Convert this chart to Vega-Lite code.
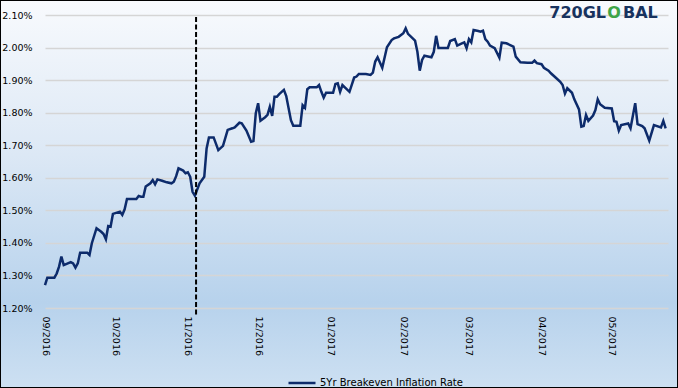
{
  "$schema": "https://vega.github.io/schema/vega-lite/v6.json",
  "width": 678,
  "height": 388,
  "autosize": {"type": "none"},
  "padding": 0,
  "background": "#ffffff",
  "view": {
    "fill": {"gradient": "linear", "x1": 0, "y1": 0, "x2": 0, "y2": 1,
      "stops": [
        {"offset": 0, "color": "#f8fafd"},
        {"offset": 0.4, "color": "#dce8f5"},
        {"offset": 0.78, "color": "#b7d2ec"},
        {"offset": 1, "color": "#cde0f2"}
      ]},
    "stroke": "#000000",
    "strokeWidth": 2
  },
  "config": {"font": "DejaVu Sans"},
  "data": {"values": [
    {"d":"2016-09-01","v":1.270},{"d":"2016-09-02","v":1.293},{"d":"2016-09-05","v":1.293},{"d":"2016-09-06","v":1.306},
    {"d":"2016-09-07","v":1.327},{"d":"2016-09-08","v":1.358},{"d":"2016-09-09","v":1.332},{"d":"2016-09-10","v":1.335},
    {"d":"2016-09-12","v":1.341},{"d":"2016-09-13","v":1.337},{"d":"2016-09-14","v":1.324},{"d":"2016-09-15","v":1.337},
    {"d":"2016-09-16","v":1.370},{"d":"2016-09-19","v":1.370},{"d":"2016-09-20","v":1.363},{"d":"2016-09-21","v":1.399},
    {"d":"2016-09-23","v":1.445},{"d":"2016-09-25","v":1.434},{"d":"2016-09-26","v":1.427},{"d":"2016-09-27","v":1.411},
    {"d":"2016-09-28","v":1.452},{"d":"2016-09-29","v":1.450},{"d":"2016-09-30","v":1.489},{"d":"2016-10-03","v":1.496},
    {"d":"2016-10-04","v":1.486},{"d":"2016-10-05","v":1.503},{"d":"2016-10-06","v":1.535},{"d":"2016-10-10","v":1.535},
    {"d":"2016-10-11","v":1.544},{"d":"2016-10-12","v":1.542},{"d":"2016-10-13","v":1.542},{"d":"2016-10-14","v":1.573},
    {"d":"2016-10-16","v":1.583},{"d":"2016-10-17","v":1.593},{"d":"2016-10-18","v":1.580},{"d":"2016-10-19","v":1.595},
    {"d":"2016-10-21","v":1.591},{"d":"2016-10-23","v":1.586},{"d":"2016-10-25","v":1.583},{"d":"2016-10-26","v":1.588},
    {"d":"2016-10-27","v":1.605},{"d":"2016-10-28","v":1.629},{"d":"2016-10-30","v":1.622},{"d":"2016-10-31","v":1.614},
    {"d":"2016-11-01","v":1.617},{"d":"2016-11-02","v":1.603},{"d":"2016-11-03","v":1.557},{"d":"2016-11-04","v":1.545},
    {"d":"2016-11-06","v":1.583},{"d":"2016-11-08","v":1.603},{"d":"2016-11-09","v":1.690},{"d":"2016-11-10","v":1.724},
    {"d":"2016-11-12","v":1.724},{"d":"2016-11-14","v":1.685},{"d":"2016-11-16","v":1.698},{"d":"2016-11-18","v":1.747},
    {"d":"2016-11-20","v":1.752},{"d":"2016-11-21","v":1.755},{"d":"2016-11-23","v":1.769},{"d":"2016-11-24","v":1.767},
    {"d":"2016-11-26","v":1.745},{"d":"2016-11-28","v":1.711},{"d":"2016-11-29","v":1.713},{"d":"2016-11-30","v":1.798},
    {"d":"2016-12-01","v":1.829},{"d":"2016-12-02","v":1.775},{"d":"2016-12-04","v":1.786},{"d":"2016-12-05","v":1.793},
    {"d":"2016-12-06","v":1.818},{"d":"2016-12-07","v":1.790},{"d":"2016-12-08","v":1.849},{"d":"2016-12-09","v":1.849},
    {"d":"2016-12-10","v":1.857},{"d":"2016-12-12","v":1.870},{"d":"2016-12-13","v":1.851},{"d":"2016-12-15","v":1.777},
    {"d":"2016-12-16","v":1.760},{"d":"2016-12-19","v":1.760},{"d":"2016-12-20","v":1.823},{"d":"2016-12-21","v":1.815},
    {"d":"2016-12-22","v":1.872},{"d":"2016-12-23","v":1.878},{"d":"2016-12-26","v":1.878},{"d":"2016-12-27","v":1.885},
    {"d":"2016-12-28","v":1.864},{"d":"2016-12-29","v":1.846},{"d":"2016-12-30","v":1.861},{"d":"2017-01-02","v":1.861},
    {"d":"2017-01-03","v":1.888},{"d":"2017-01-04","v":1.890},{"d":"2017-01-05","v":1.864},{"d":"2017-01-06","v":1.885},
    {"d":"2017-01-09","v":1.864},{"d":"2017-01-11","v":1.908},{"d":"2017-01-12","v":1.911},{"d":"2017-01-13","v":1.919},
    {"d":"2017-01-16","v":1.919},{"d":"2017-01-18","v":1.916},{"d":"2017-01-19","v":1.923},{"d":"2017-01-20","v":1.957},
    {"d":"2017-01-21","v":1.970},{"d":"2017-01-23","v":1.938},{"d":"2017-01-25","v":2.001},{"d":"2017-01-27","v":2.023},
    {"d":"2017-01-28","v":2.028},{"d":"2017-01-30","v":2.033},{"d":"2017-02-01","v":2.044},{"d":"2017-02-02","v":2.059},
    {"d":"2017-02-03","v":2.042},{"d":"2017-02-06","v":2.021},{"d":"2017-02-07","v":1.987},{"d":"2017-02-08","v":1.929},
    {"d":"2017-02-09","v":1.962},{"d":"2017-02-10","v":1.975},{"d":"2017-02-12","v":1.972},{"d":"2017-02-13","v":1.970},
    {"d":"2017-02-14","v":1.987},{"d":"2017-02-15","v":2.036},{"d":"2017-02-16","v":1.999},{"d":"2017-02-20","v":1.999},
    {"d":"2017-02-21","v":2.020},{"d":"2017-02-23","v":2.026},{"d":"2017-02-24","v":2.006},{"d":"2017-02-26","v":2.013},
    {"d":"2017-02-27","v":2.016},{"d":"2017-02-28","v":1.998},{"d":"2017-03-01","v":2.026},{"d":"2017-03-02","v":2.016},
    {"d":"2017-03-03","v":2.054},{"d":"2017-03-05","v":2.051},{"d":"2017-03-06","v":2.049},{"d":"2017-03-07","v":2.052},
    {"d":"2017-03-08","v":2.026},{"d":"2017-03-09","v":2.018},{"d":"2017-03-10","v":2.006},{"d":"2017-03-12","v":1.998},
    {"d":"2017-03-14","v":1.969},{"d":"2017-03-15","v":2.015},{"d":"2017-03-17","v":2.013},{"d":"2017-03-20","v":2.003},
    {"d":"2017-03-21","v":1.972},{"d":"2017-03-23","v":1.955},{"d":"2017-03-26","v":1.953},{"d":"2017-03-28","v":1.953},
    {"d":"2017-03-29","v":1.960},{"d":"2017-03-30","v":1.952},{"d":"2017-04-01","v":1.949},{"d":"2017-04-02","v":1.938},
    {"d":"2017-04-04","v":1.929},{"d":"2017-04-05","v":1.921},{"d":"2017-04-07","v":1.908},{"d":"2017-04-09","v":1.895},
    {"d":"2017-04-10","v":1.885},{"d":"2017-04-11","v":1.859},{"d":"2017-04-12","v":1.875},{"d":"2017-04-14","v":1.861},
    {"d":"2017-04-15","v":1.841},{"d":"2017-04-17","v":1.810},{"d":"2017-04-18","v":1.757},{"d":"2017-04-19","v":1.759},
    {"d":"2017-04-20","v":1.793},{"d":"2017-04-21","v":1.775},{"d":"2017-04-23","v":1.791},{"d":"2017-04-24","v":1.808},
    {"d":"2017-04-25","v":1.841},{"d":"2017-04-26","v":1.826},{"d":"2017-04-28","v":1.815},{"d":"2017-05-01","v":1.813},
    {"d":"2017-05-02","v":1.774},{"d":"2017-05-03","v":1.772},{"d":"2017-05-04","v":1.745},{"d":"2017-05-05","v":1.762},
    {"d":"2017-05-08","v":1.767},{"d":"2017-05-09","v":1.752},{"d":"2017-05-11","v":1.829},{"d":"2017-05-12","v":1.765},
    {"d":"2017-05-14","v":1.759},{"d":"2017-05-15","v":1.752},{"d":"2017-05-17","v":1.714},{"d":"2017-05-19","v":1.762},
    {"d":"2017-05-22","v":1.755},{"d":"2017-05-23","v":1.775},{"d":"2017-05-24","v":1.752}
  ]},
  "layer": [
    {
      "mark": {"type": "line", "strokeWidth": 2.5, "clip": false},
      "encoding": {
        "x": {
          "field": "d", "type": "temporal",
          "scale": {"type": "utc",
            "domain": [{"year": 2016, "month": 9, "date": 1, "utc": true}, {"year": 2017, "month": 5, "date": 25, "utc": true}],
            "range": [45, 668]},
          "axis": {
            "orient": "bottom", "offset": -80, "title": null,
            "values": [
              {"year": 2016, "month": 9, "date": 1, "utc": true},
              {"year": 2016, "month": 10, "date": 1, "utc": true},
              {"year": 2016, "month": 11, "date": 1, "utc": true},
              {"year": 2016, "month": 12, "date": 1, "utc": true},
              {"year": 2017, "month": 1, "date": 1, "utc": true},
              {"year": 2017, "month": 2, "date": 1, "utc": true},
              {"year": 2017, "month": 3, "date": 1, "utc": true},
              {"year": 2017, "month": 4, "date": 1, "utc": true},
              {"year": 2017, "month": 5, "date": 1, "utc": true}
            ],
            "format": "%m/%Y",
            "labelAngle": 90, "labelAlign": "left", "labelBaseline": "middle",
            "labelPadding": 8, "labelFlush": false, "labelOverlap": false,
            "labelFontSize": 9.5, "labelColor": "#000000",
            "ticks": false, "domain": false, "grid": false
          }
        },
        "y": {
          "field": "v", "type": "quantitative",
          "scale": {"domain": [1.2, 2.1], "range": [308, 15], "nice": false, "zero": false},
          "axis": {
            "orient": "left", "offset": -45, "title": null,
            "values": [1.2, 1.3, 1.4, 1.5, 1.6, 1.7, 1.8, 1.9, 2.0, 2.1],
            "labelExpr": "format(datum.value, '.2f') + '%'",
            "labelPadding": 13, "labelFontSize": 9.5, "labelColor": "#000000",
            "ticks": false, "domain": false,
            "grid": true, "gridColor": "#d5d5d5", "gridWidth": 1.5
          }
        },
        "color": {
          "datum": "5Yr Breakeven Inflation Rate", "type": "nominal",
          "scale": {"range": ["#0d2b6b"]},
          "legend": {
            "orient": "none", "legendX": 287, "legendY": 368, "title": null,
            "symbolType": "stroke", "symbolSize": 729, "symbolStrokeWidth": 2.5,
            "labelFontSize": 10, "labelColor": "#000000", "labelOffset": 3, "padding": 0
          }
        }
      }
    },
    {
      "data": {"values": [{}]},
      "mark": {"type": "rule", "color": "#000000", "strokeWidth": 2, "strokeDash": [5, 2.5], "clip": false},
      "encoding": {
        "x": {"datum": {"year": 2016, "month": 11, "date": 4, "hours": 12, "utc": true}, "type": "temporal"},
        "y": {"datum": 2.094, "type": "quantitative"},
        "y2": {"datum": 1.178}
      }
    },
    {
      "data": {"values": [{}]},
      "mark": {"type": "text", "text": "720GL", "align": "right", "baseline": "alphabetic", "dx": -62, "dy": 3, "fontSize": 16, "fontWeight": "bold", "color": "#17325e", "clip": false},
      "encoding": {
        "x": {"datum": {"year": 2017, "month": 5, "date": 25, "utc": true}, "type": "temporal"},
        "y": {"datum": 2.1, "type": "quantitative"}
      }
    },
    {
      "data": {"values": [{}]},
      "mark": {"type": "text", "text": "O", "align": "center", "baseline": "alphabetic", "dx": -54, "dy": 3, "fontSize": 16, "fontWeight": "bold", "color": "#3ea548", "clip": false},
      "encoding": {
        "x": {"datum": {"year": 2017, "month": 5, "date": 25, "utc": true}, "type": "temporal"},
        "y": {"datum": 2.1, "type": "quantitative"}
      }
    },
    {
      "data": {"values": [{}]},
      "mark": {"type": "text", "text": "BAL", "align": "left", "baseline": "alphabetic", "dx": -45, "dy": 3, "fontSize": 16, "fontWeight": "bold", "color": "#17325e", "clip": false},
      "encoding": {
        "x": {"datum": {"year": 2017, "month": 5, "date": 25, "utc": true}, "type": "temporal"},
        "y": {"datum": 2.1, "type": "quantitative"}
      }
    }
  ]
}
